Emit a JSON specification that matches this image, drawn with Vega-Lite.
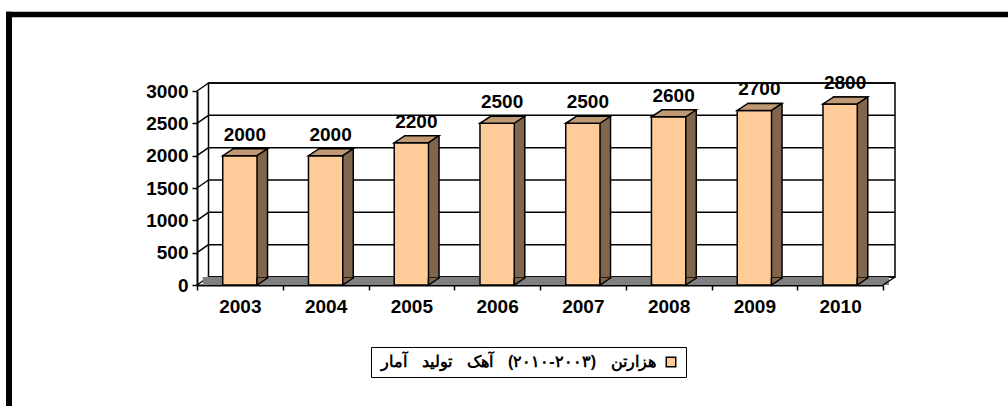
{
  "$schema": "https://vega.github.io/schema/vega-lite/v6.json",
  "width": 686,
  "height": 194,
  "autosize": {"type": "none"},
  "padding": {"left": 197, "top": 91, "right": 125, "bottom": 121},
  "background": "white",
  "config": {
    "view": {"stroke": null},
    "font": "Liberation Sans",
    "axisY": {
      "tickCount": 6, "format": "d", "grid": false, "labelOverlap": false,
      "labelFont": "Liberation Sans", "labelFontSize": 19, "labelFontWeight": "bold", "labelColor": "black",
      "labelPadding": 4, "domainColor": "black", "domainWidth": 2, "tickColor": "black", "tickWidth": 1.5, "tickSize": 5
    },
    "axisX": {
      "labelAngle": 0, "labelFont": "Liberation Sans", "labelFontSize": 19, "labelFontWeight": "bold",
      "labelColor": "black", "labelPadding": 7, "domainColor": "black", "domainWidth": 2,
      "tickColor": "black", "tickWidth": 1.5, "tickSize": 5, "tickBand": "extent", "grid": false
    }
  },
  "datasets": {
    "bars": [
      {"year": "2003", "value": 2000, "series": "آمار\uffa0تولید\uffa0آهک\uffa0(۲۰۱۰-۲۰۰۳)\uffa0هزارتن"},
      {"year": "2004", "value": 2000, "series": "آمار\uffa0تولید\uffa0آهک\uffa0(۲۰۱۰-۲۰۰۳)\uffa0هزارتن"},
      {"year": "2005", "value": 2200, "series": "آمار\uffa0تولید\uffa0آهک\uffa0(۲۰۱۰-۲۰۰۳)\uffa0هزارتن"},
      {"year": "2006", "value": 2500, "series": "آمار\uffa0تولید\uffa0آهک\uffa0(۲۰۱۰-۲۰۰۳)\uffa0هزارتن"},
      {"year": "2007", "value": 2500, "series": "آمار\uffa0تولید\uffa0آهک\uffa0(۲۰۱۰-۲۰۰۳)\uffa0هزارتن"},
      {"year": "2008", "value": 2600, "series": "آمار\uffa0تولید\uffa0آهک\uffa0(۲۰۱۰-۲۰۰۳)\uffa0هزارتن"},
      {"year": "2009", "value": 2700, "series": "آمار\uffa0تولید\uffa0آهک\uffa0(۲۰۱۰-۲۰۰۳)\uffa0هزارتن"},
      {"year": "2010", "value": 2800, "series": "آمار\uffa0تولید\uffa0آهک\uffa0(۲۰۱۰-۲۰۰۳)\uffa0هزارتن"}
    ],
    "grid": [{"v": 0}, {"v": 500}, {"v": 1000}, {"v": 1500}, {"v": 2000}, {"v": 2500}, {"v": 3000}],
    "one": [{"k": 1}]
  },
  "layer": [
    {
      "data": {"name": "one"},
      "mark": {"type": "rect", "fill": "white", "stroke": "black", "strokeWidth": 1.5, "yOffset": -8, "y2Offset": -8},
      "encoding": {
        "x": {"value": 11.5},
        "x2": {"value": 698},
        "y": {"datum": 0, "type": "quantitative", "title": null, "scale": {"domain": [0, 3000], "nice": false}},
        "y2": {"datum": 3000}
      }
    },
    {
      "data": {"name": "grid"},
      "mark": {"type": "rule", "stroke": "black", "strokeWidth": 1.5, "yOffset": -8},
      "encoding": {
        "x": {"value": 11.5},
        "x2": {"value": 698},
        "y": {"field": "v", "type": "quantitative", "title": null}
      }
    },
    {
      "data": {"name": "grid"},
      "mark": {"type": "rule", "stroke": "black", "strokeWidth": 1.5, "y2Offset": -8},
      "encoding": {
        "x": {"value": 0},
        "x2": {"value": 11.5},
        "y": {"field": "v", "type": "quantitative", "title": null},
        "y2": {"field": "v"}
      }
    },
    {
      "data": {"name": "one"},
      "mark": {"type": "rect", "fill": "#808080", "y2Offset": -8},
      "encoding": {
        "x": {"value": 5.75},
        "x2": {"value": 692},
        "y": {"datum": 0, "type": "quantitative", "title": null},
        "y2": {"datum": 0}
      }
    },
    {
      "data": {"name": "one"},
      "mark": {"type": "rule", "stroke": "black", "strokeWidth": 1.5, "y2Offset": -8},
      "encoding": {
        "x": {"value": 686},
        "x2": {"value": 698},
        "y": {"datum": 0, "type": "quantitative", "title": null},
        "y2": {"datum": 0}
      }
    },
    {
      "data": {"name": "bars"},
      "mark": {"type": "bar", "fill": "#80664C", "stroke": "black", "strokeWidth": 1.5, "width": {"band": 0.4}, "xOffset": 10.5, "yOffset": -7, "y2Offset": -7},
      "encoding": {
        "x": {"field": "year", "type": "nominal", "title": null, "scale": {"paddingInner": 0, "paddingOuter": 0}},
        "y": {"field": "value", "type": "quantitative", "title": null}
      }
    },
    {
      "data": {"name": "bars"},
      "mark": {"type": "bar", "stroke": "black", "strokeWidth": 1.5, "width": {"band": 0.4}},
      "encoding": {
        "x": {"field": "year", "type": "nominal", "title": null},
        "y": {"field": "value", "type": "quantitative", "title": null},
        "color": {
          "field": "series", "type": "nominal",
          "scale": {"range": ["#FFCC99"]},
          "legend": {
            "title": null, "orient": "none", "legendX": 174, "legendY": 256,
            "symbolType": "square", "symbolSize": 90, "symbolStrokeColor": "black", "symbolStrokeWidth": 1.5,
            "symbolOffset": 285, "labelOffset": -298, "labelLimit": 0,
            "labelFont": "Liberation Sans", "labelFontSize": 16, "labelFontWeight": "bold", "labelColor": "black",
            "strokeColor": "black", "padding": 7, "fillColor": "white"
          }
        }
      }
    },
    {
      "data": {"name": "bars"},
      "mark": {"type": "point", "shape": "M-17.1,0L17.1,0L27.6,-7L-6.5,-7Z", "size": 4, "filled": true, "fill": "#BF9973", "stroke": "black", "strokeWidth": 1.5, "opacity": 1},
      "encoding": {
        "x": {"field": "year", "type": "nominal", "title": null},
        "y": {"field": "value", "type": "quantitative", "title": null}
      }
    },
    {
      "data": {"name": "bars"},
      "mark": {"type": "point", "shape": "M17.1,-7L17.1,0L27.6,-7", "size": 4, "filled": true, "fill": "#80664C", "stroke": "black", "strokeWidth": 1.5, "opacity": 1},
      "encoding": {
        "x": {"field": "year", "type": "nominal", "title": null},
        "y": {"datum": 0, "type": "quantitative", "title": null}
      }
    },
    {
      "data": {"name": "bars"},
      "mark": {"type": "text", "font": "Liberation Sans", "fontSize": 19, "fontWeight": "bold", "color": "black", "baseline": "alphabetic", "dy": -15, "xOffset": 5},
      "encoding": {
        "x": {"field": "year", "type": "nominal", "title": null},
        "y": {"field": "value", "type": "quantitative", "title": null},
        "text": {"field": "value", "type": "quantitative"}
      }
    },
    {
      "data": {"name": "one"},
      "mark": {"type": "rect", "fill": "black", "strokeWidth": 0},
      "encoding": {
        "x": {"value": -191},
        "x2": {"value": 811},
        "y": {"value": -79.2},
        "y2": {"value": -73.8}
      }
    },
    {
      "data": {"name": "one"},
      "mark": {"type": "rect", "fill": "black", "strokeWidth": 0},
      "encoding": {
        "x": {"value": -191},
        "x2": {"value": -185},
        "y": {"value": -79.2},
        "y2": {"value": 315}
      }
    }
  ]
}
